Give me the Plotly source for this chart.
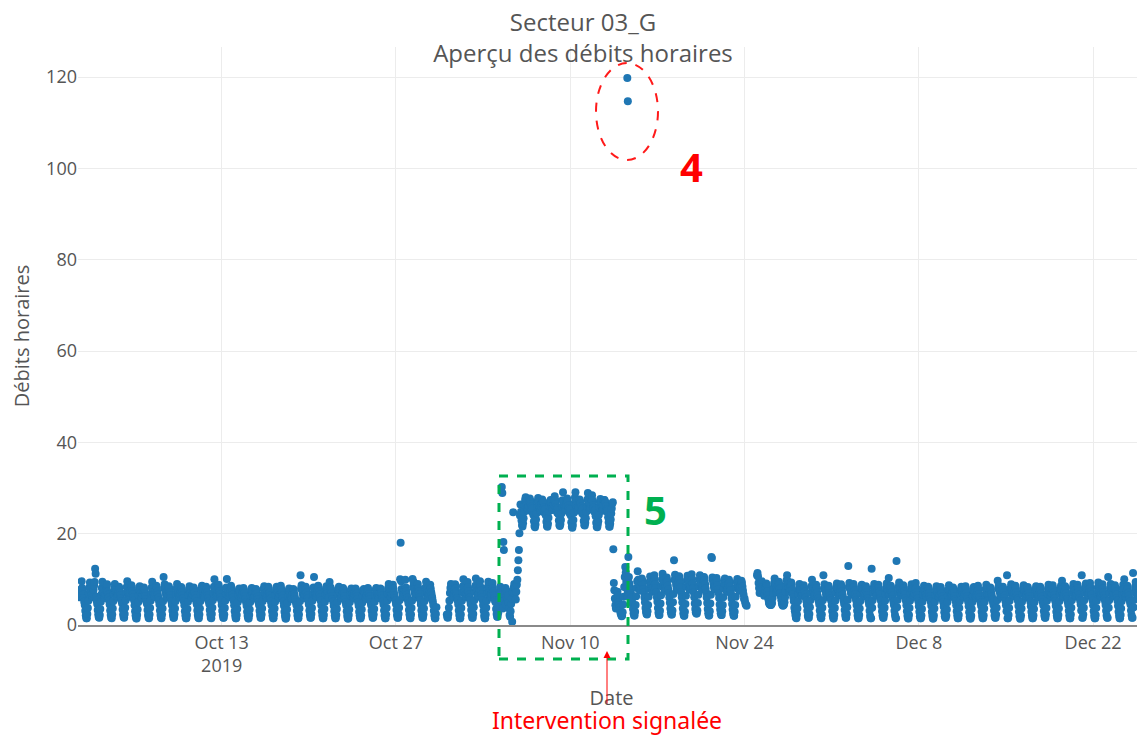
"""
Secteur 03_G - hourly flow overview with annotated anomalies
"""

import pandas as pd
import plotly.graph_objects as go

hours = list(range(24))

# one row of 24 hourly readings per day, starting 2019-10-01 (None = no reading)
oct_flow = [
    [None] * 12 + [7.4, 6.6, 6.1, 6.3, 6.9, 7.8, 9.6, 8.1, 7.3, 6.6, 5.9, 5.1],
    [4.4, 3.1, 2.1, 1.5, 1.5, 2.4, 3.7, 5.3, 6.9, 8.2, 9.3, 7.9, 7.2, 6.6, 6.1, 6.3, 6.9, 7.7, 8.6, 9.4, 12.3, 11.2, 6.2, 5.3],
    [4.6, 3.3, 2.3, 1.7, 1.6, 2.2, 3.5, 5.1, 6.7, 8.1, 9.5, 7.7, 7.0, 6.4, 5.9, 6.1, 6.7, 7.5, 8.5, 8.9, 7.3, 6.6, 6.0, 5.3],
    [4.5, 3.2, 2.2, 1.6, 1.5, 2.3, 3.6, 5.2, 6.8, 8.0, 9.0, 7.8, 7.1, 6.5, 6.0, 6.2, 6.8, 7.6, 8.4, 8.0, 7.2, 6.5, 5.9, 5.2],
    [4.7, 3.4, 2.3, 1.7, 1.6, 2.4, 3.8, 5.4, 7.0, 8.3, 9.6, 8.0, 7.3, 6.7, 6.2, 6.4, 7.0, 7.8, 8.7, 8.2, 7.4, 6.7, 6.1, 5.4],
    [4.3, 3.0, 2.1, 1.5, 1.4, 2.2, 3.4, 5.0, 6.5, 7.7, 8.5, 7.6, 6.9, 6.3, 5.8, 6.0, 6.6, 7.4, 8.2, 7.8, 7.0, 6.3, 5.7, 5.0],
    [4.6, 3.3, 2.2, 1.6, 1.5, 2.3, 3.7, 5.3, 6.9, 8.2, 9.5, 7.9, 7.2, 6.6, 6.1, 6.3, 6.9, 7.7, 8.6, 8.1, 7.3, 6.6, 6.0, 5.3],
    [4.5, 3.2, 2.2, 1.6, 1.5, 2.3, 3.6, 5.2, 10.5, 8.1, 8.9, 7.8, 7.1, 6.5, 6.0, 6.2, 6.8, 7.6, 8.5, 8.0, 7.2, 6.5, 5.9, 5.2],
    [4.4, 3.1, 2.2, 1.6, 1.6, 2.3, 3.6, 5.2, 6.8, 8.0, 9.0, 7.8, 7.1, 6.5, 6.0, 6.2, 6.8, 7.6, 8.3, 7.9, 7.2, 6.5, 5.9, 5.2],
    [4.3, 3.0, 2.1, 1.5, 1.5, 2.2, 3.5, 5.1, 6.6, 7.8, 8.5, 7.7, 7.0, 6.4, 5.9, 6.1, 6.7, 7.5, 8.2, 7.8, 7.1, 6.4, 5.8, 5.1],
    [4.5, 3.2, 2.2, 1.6, 1.5, 2.3, 3.6, 5.2, 6.7, 7.9, 8.6, 7.8, 7.1, 6.5, 6.0, 6.2, 6.8, 7.6, 8.4, 7.9, 7.2, 6.5, 5.9, 5.2],
    [4.6, 3.3, 2.3, 1.6, 1.5, 2.4, 3.8, 5.4, 7.0, 8.4, 10.0, 8.0, 7.3, 6.7, 6.2, 6.4, 7.0, 7.8, 8.8, 8.2, 7.4, 6.7, 6.1, 5.4],
    [4.4, 3.1, 2.2, 1.6, 1.6, 2.3, 3.7, 5.3, 6.9, 8.2, 10.1, 7.9, 7.2, 6.6, 6.1, 6.3, 6.9, 7.7, 8.6, 8.1, 7.3, 6.6, 6.0, 5.3],
    [4.3, 3.0, 2.1, 1.5, 1.5, 2.2, 3.5, 5.0, 6.5, 7.6, 8.0, 7.5, 6.9, 6.3, 5.8, 6.0, 6.6, 7.3, 8.1, 7.7, 7.0, 6.3, 5.7, 5.0],
    [4.2, 2.9, 2.0, 1.5, 1.4, 2.2, 3.4, 5.0, 6.4, 7.5, 8.1, 7.4, 6.8, 6.2, 5.8, 6.0, 6.5, 7.2, 7.9, 7.6, 6.9, 6.2, 5.6, 5.0],
    [4.4, 3.1, 2.2, 1.6, 1.6, 2.3, 3.6, 5.2, 6.7, 7.9, 8.5, 7.7, 7.0, 6.4, 5.9, 6.1, 6.7, 7.5, 8.4, 7.9, 7.1, 6.4, 5.8, 5.1],
    [4.3, 3.0, 2.1, 1.5, 1.5, 2.3, 3.6, 5.1, 6.6, 7.8, 8.4, 7.6, 7.0, 6.4, 5.9, 6.1, 6.7, 7.5, 8.6, 7.9, 7.1, 6.4, 5.8, 5.1],
    [4.2, 2.9, 2.0, 1.4, 1.4, 2.1, 3.4, 4.9, 6.4, 7.5, 8.0, 7.4, 6.7, 6.1, 5.7, 5.9, 6.5, 7.2, 7.9, 7.6, 6.8, 6.2, 5.6, 5.0],
    [4.4, 3.1, 2.1, 1.5, 1.5, 2.3, 3.6, 5.2, 10.9, 8.0, 8.7, 7.7, 7.0, 6.4, 5.9, 6.1, 6.7, 7.5, 8.4, 7.9, 7.1, 6.4, 5.8, 5.2],
    [4.5, 3.2, 2.2, 1.6, 1.6, 2.4, 3.7, 5.3, 6.9, 8.2, 10.5, 7.9, 7.2, 6.6, 6.1, 6.3, 6.9, 7.7, 8.6, 8.1, 7.3, 6.6, 6.0, 5.3],
    [4.3, 3.0, 2.1, 1.5, 1.5, 2.2, 3.5, 5.1, 6.7, 7.9, 8.5, 7.7, 7.0, 6.4, 5.9, 6.1, 9.4, 7.6, 8.2, 7.8, 7.0, 6.3, 5.7, 5.1],
    [4.2, 3.0, 2.1, 1.5, 1.5, 2.2, 3.5, 5.0, 6.6, 7.8, 8.4, 7.6, 6.9, 6.3, 5.8, 6.0, 6.6, 7.4, 8.1, 7.7, 6.9, 6.3, 5.7, 5.0],
    [4.3, 3.0, 2.0, 1.4, 1.4, 2.2, 3.4, 5.0, 6.5, 7.6, 8.0, 7.5, 6.9, 6.3, 5.9, 6.1, 6.7, 7.4, 8.0, 7.7, 6.9, 6.3, 5.7, 5.0],
    [4.2, 2.9, 2.1, 1.5, 1.5, 2.1, 3.4, 4.9, 6.4, 7.5, 7.9, 7.4, 6.8, 6.2, 5.7, 5.9, 6.5, 7.3, 8.1, 7.6, 6.8, 6.2, 5.6, 5.0],
    [4.4, 3.1, 2.2, 1.6, 1.6, 2.3, 3.5, 5.1, 6.6, 7.7, 8.1, 7.6, 7.0, 6.4, 5.9, 6.1, 6.7, 7.4, 8.0, 7.7, 7.0, 6.4, 5.8, 5.2],
    [4.5, 3.2, 2.1, 1.5, 1.5, 2.3, 3.7, 5.3, 6.9, 8.1, 9.0, 7.8, 7.1, 6.5, 6.0, 6.2, 6.8, 7.6, 8.8, 8.0, 7.2, 6.5, 5.9, 5.3],
    [4.6, 3.3, 2.2, 1.6, 1.6, 2.4, 3.8, 5.4, 10.0, 18.0, 9.6, 7.9, 7.2, 6.6, 6.1, 6.3, 6.9, 7.7, 9.9, 8.2, 7.4, 6.6, 6.0, 5.4],
    [4.7, 3.3, 2.3, 1.6, 1.5, 2.3, 3.7, 5.3, 10.1, 8.3, 9.4, 7.9, 7.2, 6.6, 6.1, 6.3, 6.9, 7.7, 9.0, 8.1, 7.3, 6.6, 6.0, 5.4],
    [4.5, 3.2, 2.2, 1.6, 1.6, 2.3, 3.6, 5.2, 7.0, 8.2, 9.5, 7.8, 7.1, 6.5, 6.0, 6.2, 6.8, 7.6, 8.8, 8.0, 7.2, 6.5, 5.9, 5.2],
    [4.4, 3.1, 2.1, 1.5, 1.5, 2.4, 3.9] + [None] * 17,
    [None, None, 2.3, 1.7, 1.6, 2.4, 3.8, 5.3, 7.0, 8.1, 9.0, 7.8, 7.1, 6.5, 6.0, 6.2, 6.8, 7.6, 8.9, 8.0, 7.3, 6.6, 5.9, 5.3],
]

# starting 2019-11-01
nov_flow = [
    [4.5, 3.2, 2.2, 1.5, 1.5, 2.3, 3.7, 5.3, 7.2, 8.5, 10.0, 8.0, 7.3, 6.6, 6.1, 6.3, 6.9, 7.8, 9.4, 8.2, 7.4, 6.6, 6.0, 5.4],
    [4.6, 3.3, 2.1, 1.6, 1.6, 2.4, 3.9, 5.4, 7.3, 8.6, 10.2, 8.1, 7.4, 6.7, 6.2, 6.4, 7.0, 7.9, 9.6, 8.3, 7.5, 6.7, 6.1, 5.5],
    [4.4, 3.1, 2.0, 1.5, 1.5, 2.3, 3.8, 5.3, 7.1, 8.3, 9.5, 7.9, 7.2, 6.5, 6.0, 6.2, 6.8, 7.7, 9.2, 8.1, 7.3, 6.5, 5.9, 5.3],
    [5.0, 3.5, 2.4, 1.8, 1.8, 2.6, 4.0, 5.6, 7.2, 8.4, 7.0, 5.2, 30.2, 28.9, 3.6, 18.2, 16.4, 5.4, 6.8, 8.1, 4.5, 6.2, 7.4, 5.8],
    [6.5, 4.8, 3.6, 2.2, 1.8, 3.0, 4.6, 5.8, 0.7, 7.1, 24.7, 8.2, 9.0, 6.9, 8.1, 5.6, 7.3, 8.8, 9.9, 12.0, 14.2, 16.4, 20.1, 24.0],
    [26.4, 24.8, 22.9, 21.9, 21.6, 22.3, 23.4, 24.8, 26.2, 27.4, 28.0, 27.1, 26.3, 25.6, 25.1, 25.4, 26.1, 26.9, 27.7, 27.2, 26.5, 25.9, 25.2, 24.7],
    [25.5, 24.1, 22.7, 21.7, 21.4, 22.0, 23.1, 24.5, 25.9, 27.1, 27.8, 26.9, 26.1, 25.4, 24.9, 25.2, 25.9, 26.7, 27.5, 27.0, 26.9, 25.7, 25.0, 24.5],
    [25.4, 24.0, 22.6, 21.7, 21.5, 22.2, 23.5, 24.9, 26.1, 27.0, 27.4, 26.8, 26.0, 25.5, 25.2, 25.6, 26.4, 27.3, 28.2, 27.4, 26.5, 25.8, 25.1, 24.6],
    [25.6, 24.3, 22.9, 21.9, 21.7, 22.1, 23.0, 24.4, 25.9, 27.3, 29.1, 27.2, 26.3, 25.6, 25.1, 25.4, 26.2, 27.0, 27.7, 27.1, 26.1, 25.5, 24.9, 24.4],
    [25.3, 24.0, 22.5, 21.5, 21.3, 21.9, 23.0, 24.6, 26.6, 27.9, 29.1, 27.1, 26.3, 25.6, 25.1, 25.4, 25.9, 26.8, 27.5, 27.0, 26.7, 25.9, 25.0, 24.5],
    [25.5, 24.2, 22.8, 21.9, 21.8, 22.4, 23.4, 24.8, 26.0, 27.5, 28.9, 27.2, 26.5, 25.7, 25.3, 25.7, 26.5, 27.4, 28.4, 27.3, 26.3, 25.7, 25.0, 24.7],
    [25.2, 23.8, 22.4, 21.5, 21.4, 22.0, 22.7, 24.1, 25.8, 27.0, 27.6, 26.9, 26.4, 25.6, 25.0, 25.4, 26.3, 27.4, 27.4, 27.0, 26.8, 26.0, 25.3, 24.8],
    [25.0, 23.6, 22.5, 21.6, 21.5, 22.2, 23.1, 24.4, 25.5, 26.6, 26.9, 16.6, 9.2, 7.6, 5.8, 4.3, 3.6, 5.2, 6.2, 7.3, 6.4, 5.0, 4.4, 3.8],
    [3.2, 2.6, 2.3, 1.9, 2.0, 2.8, 4.5, 6.2, 8.3, 10.5, 12.7, 11.5, 9.4, 8.0, 6.4, 7.2, 14.9, 10.5, 9.1, 8.3, 7.8, 6.9, 6.0, 5.2],
    [4.6, 3.5, 2.6, 2.1, 2.1, 2.9, 4.4, 6.3, 8.1, 9.6, 11.8, 9.9, 9.0, 8.2, 7.6, 7.8, 8.5, 9.4, 10.2, 9.7, 8.8, 7.9, 7.1, 6.0],
    [5.0, 3.7, 2.9, 2.4, 2.3, 3.0, 4.4, 6.2, 8.0, 9.5, 10.6, 9.5, 8.7, 7.9, 7.3, 7.6, 8.3, 9.6, 10.9, 9.9, 9.0, 8.1, 7.2, 6.1],
    [5.1, 3.7, 2.7, 2.2, 2.2, 3.1, 4.7, 6.5, 8.5, 10.0, 11.2, 9.8, 8.9, 8.1, 7.6, 7.9, 8.7, 9.5, 10.4, 9.7, 8.6, 7.8, 7.0, 6.0],
    [4.9, 3.6, 2.8, 2.3, 2.3, 3.2, 5.0, 6.8, 14.2, 9.9, 11.0, 9.7, 8.8, 8.1, 7.7, 8.0, 8.9, 9.8, 10.7, 10.0, 9.2, 8.2, 7.2, 6.1],
    [5.0, 3.6, 2.6, 2.0, 2.0, 2.9, 4.6, 6.4, 8.4, 9.8, 10.8, 9.8, 9.1, 8.3, 7.7, 7.9, 8.6, 9.6, 11.1, 10.1, 9.1, 8.1, 7.2, 6.1],
    [4.7, 3.5, 2.8, 2.5, 2.5, 3.2, 4.8, 6.6, 8.5, 9.9, 10.9, 9.7, 8.9, 8.2, 7.8, 8.1, 8.8, 9.7, 10.5, 9.8, 8.9, 8.0, 7.1, 6.0],
    [4.8, 3.5, 2.6, 2.1, 2.1, 3.0, 4.7, 6.6, 14.9, 14.7, 10.4, 9.8, 9.1, 8.3, 7.8, 8.0, 8.6, 9.5, 10.3, 9.7, 8.7, 7.9, 7.0, 5.9],
    [4.5, 3.4, 2.6, 2.2, 2.2, 3.0, 4.4, 6.1, 8.0, 9.3, 10.2, 9.2, 8.6, 7.8, 7.3, 7.5, 8.2, 9.0, 9.9, 9.3, 8.5, 7.6, 6.8, 5.8],
    [4.6, 3.4, 2.5, 2.0, 2.0, 2.9, 4.4, 6.2, 8.1, 9.4, 10.1, 9.3, 8.7, 8.0, 7.5, 7.7, 8.3, 9.0, 9.7, 9.2, 8.4, 7.5, 6.7, 5.7],
    [5.8, 5.1, 4.6, 4.4, 4.2] + [None] * 19,
    [10.9, 11.4, 10.6, 9.2, 8.1, 7.0, 7.5, 8.4, 9.0, 9.6, 9.1, 8.3, 7.8, 6.9, 6.4, 6.8, 7.6, 8.4, 9.1, 8.6, 7.4, 6.5, 5.6, 4.9],
    [4.6, 4.5, 4.4, 4.4, 4.6, 4.8, 5.9, 7.0, 8.1, 9.2, 10.2, 9.3, 8.8, 7.9, 7.1, 7.4, 7.8, 8.6, 9.5, 8.9, 8.0, 7.0, 6.2, 5.4],
    [4.7, 4.4, 4.2, 4.3, 4.5, 5.0, 6.1, 7.3, 8.6, 9.8, 10.9, 9.6, 9.0, 8.2, 7.3, 7.6, 8.0, 8.7, 9.3, 8.8, 7.7, 6.8, 6.0, 5.2],
    [3.8, 3.0, 2.2, 1.6, 1.5, 2.3, 3.6, 5.2, 6.8, 8.0, 9.0, 7.9, 7.6, 6.9, 6.4, 6.6, 7.0, 7.8, 8.7, 8.1, 7.3, 6.6, 6.0, 5.3],
    [4.4, 3.1, 2.0, 1.6, 1.6, 2.4, 3.9, 5.4, 7.1, 8.5, 9.9, 8.1, 7.9, 7.0, 6.3, 6.5, 6.9, 7.8, 8.8, 8.1, 7.1, 6.4, 5.8, 5.2],
    [4.5, 3.2, 2.1, 1.6, 1.5, 2.3, 3.8, 5.4, 10.9, 8.0, 8.9, 7.9, 7.5, 6.8, 6.2, 6.4, 6.8, 7.6, 8.6, 8.0, 7.0, 6.4, 5.8, 5.3],
]

# starting 2019-12-01
dec_flow = [
    [4.3, 3.0, 2.0, 1.5, 1.4, 2.2, 3.7, 5.3, 7.0, 8.2, 9.1, 8.0, 7.7, 7.0, 6.5, 6.7, 7.1, 7.9, 8.9, 8.2, 7.4, 6.6, 5.9, 5.3],
    [4.6, 3.3, 2.2, 1.6, 1.6, 2.4, 3.9, 5.5, 12.9, 8.3, 9.2, 8.1, 7.8, 7.1, 6.6, 6.8, 7.2, 8.0, 9.0, 8.3, 7.5, 6.7, 6.0, 5.4],
    [4.4, 3.1, 2.1, 1.5, 1.5, 2.2, 3.6, 5.2, 6.9, 8.0, 8.8, 7.9, 7.5, 6.8, 6.3, 6.5, 7.0, 7.7, 8.5, 8.0, 7.2, 6.5, 5.8, 5.2],
    [4.5, 3.1, 2.0, 1.5, 1.5, 12.3, 3.8, 5.4, 7.1, 8.2, 9.0, 8.0, 7.6, 6.9, 6.4, 6.6, 7.1, 7.9, 8.8, 8.1, 7.3, 6.6, 5.9, 5.3],
    [4.2, 3.0, 2.1, 1.6, 1.6, 2.3, 3.8, 5.3, 6.8, 8.1, 9.1, 7.9, 7.4, 6.9, 10.3, 6.6, 6.9, 7.7, 8.6, 8.0, 7.1, 6.4, 5.7, 5.1],
    [4.4, 3.1, 2.2, 1.6, 1.5, 14.0, 3.9, 5.5, 7.2, 8.4, 9.3, 8.1, 7.7, 7.0, 6.5, 6.7, 7.0, 7.8, 8.7, 8.1, 7.4, 6.6, 5.9, 5.3],
    [4.3, 3.0, 2.0, 1.5, 1.4, 2.2, 3.7, 5.3, 6.9, 8.1, 8.9, 7.9, 7.5, 6.8, 6.2, 6.4, 6.9, 7.8, 9.2, 8.1, 7.2, 6.5, 5.8, 5.2],
    [4.1, 2.9, 1.9, 1.5, 1.5, 2.1, 3.5, 5.1, 6.7, 7.8, 8.6, 7.7, 7.3, 6.6, 6.1, 6.3, 6.8, 7.6, 8.4, 7.9, 7.0, 6.3, 5.7, 5.1],
    [4.2, 2.9, 2.0, 1.4, 1.4, 2.1, 3.6, 5.1, 6.6, 7.7, 8.5, 7.6, 7.2, 6.5, 6.0, 6.2, 6.7, 7.5, 8.3, 7.8, 6.9, 6.2, 5.6, 5.0],
    [4.0, 2.8, 1.9, 1.6, 1.6, 2.1, 3.4, 5.0, 6.5, 7.7, 8.7, 7.6, 7.1, 6.6, 6.2, 6.4, 6.6, 7.4, 8.2, 7.8, 7.1, 6.3, 5.7, 5.2],
    [4.3, 3.0, 2.1, 1.5, 1.5, 2.2, 3.7, 5.2, 6.8, 7.8, 8.4, 7.7, 7.4, 6.7, 6.1, 6.3, 6.9, 7.6, 8.5, 7.9, 7.0, 6.3, 5.7, 5.1],
    [4.1, 2.8, 1.8, 1.4, 1.4, 2.0, 3.5, 5.0, 6.4, 7.6, 8.3, 7.5, 7.0, 6.4, 5.9, 6.1, 6.6, 7.5, 8.6, 7.8, 6.8, 6.1, 5.5, 4.9],
    [4.2, 2.9, 2.0, 1.5, 1.5, 2.1, 3.6, 5.1, 6.7, 7.9, 8.8, 7.7, 7.2, 6.5, 6.0, 6.2, 6.8, 7.5, 8.2, 7.7, 6.9, 6.2, 5.6, 5.0],
    [4.4, 3.1, 2.1, 1.6, 1.6, 2.3, 3.8, 5.4, 9.7, 8.0, 8.6, 7.8, 7.3, 6.6, 6.2, 6.4, 6.9, 7.6, 8.4, 7.9, 7.1, 6.4, 5.8, 5.2],
    [4.3, 3.0, 10.9, 1.5, 1.5, 2.2, 3.7, 5.3, 7.0, 8.1, 8.9, 7.9, 7.5, 6.8, 6.3, 6.5, 7.0, 7.7, 8.6, 8.0, 7.2, 6.5, 5.8, 5.3],
    [4.2, 2.9, 1.9, 1.4, 1.4, 2.1, 3.6, 5.1, 6.8, 7.9, 8.7, 7.8, 7.3, 6.6, 6.1, 6.3, 6.8, 7.5, 8.3, 7.8, 7.0, 6.3, 5.7, 5.1],
    [4.1, 2.9, 2.0, 1.5, 1.5, 2.1, 3.5, 5.0, 6.6, 7.8, 8.5, 7.6, 7.1, 6.5, 6.0, 6.2, 6.7, 7.5, 8.4, 7.8, 6.9, 6.2, 5.6, 5.0],
    [4.3, 3.0, 2.1, 1.6, 1.6, 2.3, 3.7, 5.3, 6.9, 8.0, 8.8, 7.9, 7.4, 6.7, 6.2, 6.4, 6.9, 7.8, 8.7, 8.0, 7.2, 6.5, 5.8, 5.2],
    [4.2, 2.9, 2.0, 1.5, 1.5, 2.2, 3.6, 5.2, 6.8, 7.9, 8.6, 7.7, 9.7, 6.6, 6.1, 6.3, 6.8, 7.6, 8.5, 7.9, 7.0, 6.3, 5.7, 5.1],
    [4.4, 3.1, 2.1, 1.5, 1.5, 2.3, 3.8, 5.4, 7.0, 8.2, 9.0, 8.0, 7.5, 6.8, 6.3, 6.5, 7.0, 7.8, 8.8, 8.1, 7.3, 6.6, 5.9, 5.3],
    [4.5, 3.2, 10.9, 1.6, 1.6, 2.3, 3.8, 5.4, 7.1, 8.3, 9.1, 8.0, 7.6, 6.9, 6.4, 6.6, 7.1, 7.9, 9.2, 8.2, 7.4, 6.6, 5.9, 5.3],
    [4.3, 3.0, 2.0, 1.5, 1.5, 2.2, 3.7, 5.3, 6.9, 8.2, 9.3, 7.9, 7.4, 6.7, 6.2, 6.4, 6.9, 7.7, 8.9, 8.0, 7.2, 6.5, 5.8, 5.2],
    [4.4, 3.1, 2.1, 1.6, 1.6, 10.5, 3.8, 5.4, 7.0, 8.2, 9.0, 8.0, 7.5, 6.8, 6.3, 6.5, 7.0, 7.8, 8.7, 8.1, 7.3, 6.6, 5.9, 5.3],
    [4.2, 2.9, 2.0, 1.5, 1.5, 2.2, 3.6, 5.2, 6.8, 8.0, 8.8, 7.8, 10.0, 6.6, 6.1, 6.3, 6.8, 7.6, 8.6, 7.9, 7.1, 6.4, 5.7, 5.1],
    [4.5, 3.2, 2.2, 1.6, 1.6, 11.4, 3.9, 5.5, 7.2, 8.4, 9.4, 8.1, 7.7, 7.0, 6.5, 6.7, 7.1, 7.9, 9.0, 8.2, 7.4, 6.6, 5.9, 5.4],
    [4.3, 3.0, 2.1, 1.5, 1.5, 2.2, 3.7, 5.3, 6.9, 8.1, 8.9, 7.9, 7.4, 6.7, 6.2, 6.4, 6.9, 7.7, 8.7, 8.0, 7.2, 6.5, 5.8, 5.2],
]

# the two isolated spikes (anomaly 4)
spike_times = ["2019-11-14 14:00", "2019-11-14 15:00"]
spike_values = [119.8, 114.7]

month_starts = ["2019-10-01", "2019-11-01", "2019-12-01"]


def build_series():
    times, values = [], []
    for start, rows in zip(month_starts, [oct_flow, nov_flow, dec_flow]):
        day0 = pd.Timestamp(start)
        for d, row in enumerate(rows):
            for h, v in zip(hours, row):
                if v is None:
                    continue
                times.append(day0 + pd.Timedelta(days=d, hours=h))
                values.append(v)
    times += [pd.Timestamp(t) for t in spike_times]
    values += spike_values
    return times, values


times, values = build_series()

TXT = "#555555"
GRID = "#ececec"

# the page body keeps an 8px margin, so the figure is 8px smaller than the window
W, H, OFF = 1137, 727, 8
# plot area in window pixels
L, R, T, B = 78, 1145, 47, 625


def px(x):
    return (x - L) / (R - L)


def py(y):
    return (B - y) / (B - T)


fig = go.Figure(
    go.Scatter(
        x=times,
        y=values,
        mode="markers",
        marker=dict(color="#1f77b4", size=8),
        showlegend=False,
    )
)

fig.update_layout(
    width=W,
    height=H,
    autosize=False,
    margin=dict(l=L - OFF, r=W + OFF - R, t=T - OFF, b=H + OFF - B),
    paper_bgcolor="white",
    plot_bgcolor="white",
    font=dict(family="Open Sans", color=TXT),
    title=dict(
        text="Secteur 03_G<br>Aperçu des débits horaires",
        font=dict(size=24, color=TXT),
        x=(583 - OFF) / W,
        xanchor="center",
        xref="container",
        y=1 - 23 / H,
        yanchor="middle",
        yref="container",
    ),
    xaxis=dict(
        type="date",
        range=["2019-10-01 11:00", "2019-12-26 04:00"],
        tick0="2019-10-13",
        dtick=14 * 86400000,
        showgrid=True,
        gridcolor=GRID,
        showline=True,
        linecolor="#8a8a8a",
        linewidth=2,
        zeroline=False,
        ticks="",
        tickfont=dict(size=18, color=TXT),
        title=dict(text="Date", font=dict(size=20, color=TXT)),
    ),
    yaxis=dict(
        range=[0, 126.6],
        tick0=0,
        dtick=20,
        showgrid=True,
        gridcolor=GRID,
        zeroline=False,
        ticks="",
        tickfont=dict(size=18, color=TXT),
        title=dict(text="Débits horaires", font=dict(size=20, color=TXT)),
    ),
)

# anomaly 4: red dashed ellipse around the two spikes
fig.add_shape(
    type="circle",
    xref="paper", yref="paper",
    x0=px(596), x1=px(658), y0=py(160), y1=py(63),
    line=dict(color="#ff1a1a", width=2, dash="dash"),
)
# anomaly 5: green dashed box around the raised plateau
fig.add_shape(
    type="rect",
    xref="paper", yref="paper",
    x0=px(499), x1=px(628), y0=py(659), y1=py(476),
    line=dict(color="#00b050", width=3, dash="dash"),
)

fig.add_annotation(
    xref="paper", yref="paper", x=px(691), y=py(167),
    xanchor="center", yanchor="middle",
    text="<b>4</b>", showarrow=False,
    font=dict(family="Noto Sans", size=40, color="#ff0000"),
)
fig.add_annotation(
    xref="paper", yref="paper", x=px(655), y=py(510),
    xanchor="center", yanchor="middle",
    text="<b>5</b>", showarrow=False,
    font=dict(family="Noto Sans", size=40, color="#00b050"),
)
fig.add_annotation(
    xref="paper", yref="paper", x=px(607), y=py(651),
    text="Intervention signalée",
    showarrow=True, ax=0, ay=69, borderpad=0,
    arrowhead=2, arrowsize=1.4, arrowwidth=1, arrowcolor="#ff0000",
    font=dict(family="Noto Sans", size=23, color="#ff0000"),
)

fig.write_html("out.html")
